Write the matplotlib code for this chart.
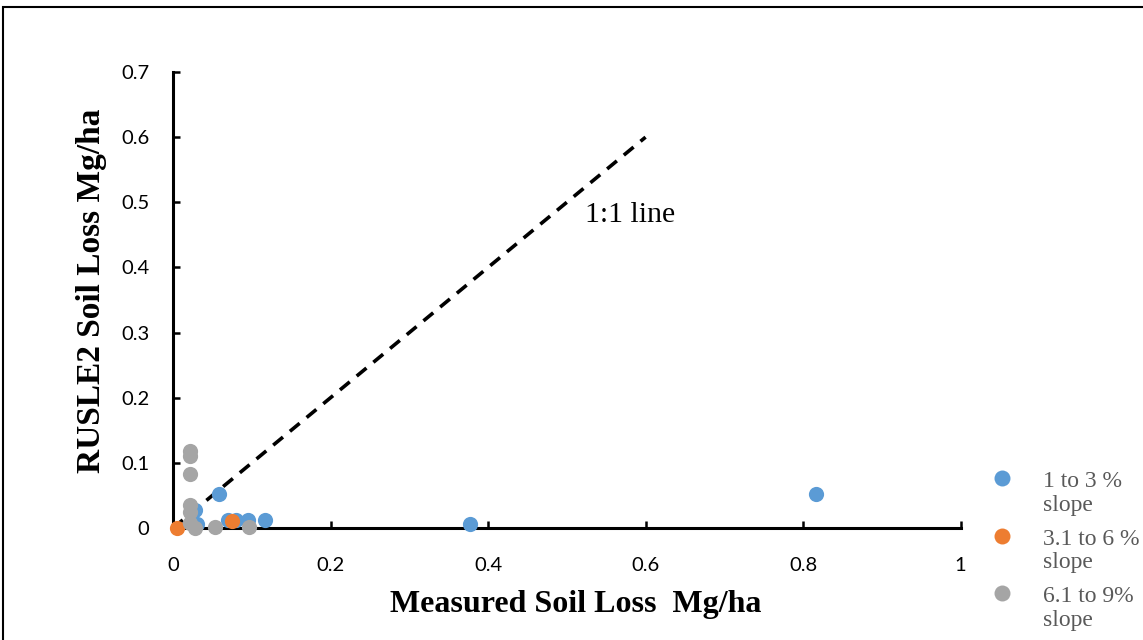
import matplotlib.pyplot as plt
from matplotlib.patches import Rectangle
from matplotlib.lines import Line2D

plt.rcParams['font.family'] = ['Liberation Serif', 'DejaVu Serif']

# measured vs RUSLE2 soil loss (Mg/ha), grouped by slope class
x_13 = [0.058, 0.817, 0.377, 0.028, 0.030, 0.070, 0.080, 0.095, 0.117]
y_13 = [0.052, 0.052, 0.006, 0.028, 0.006, 0.012, 0.012, 0.012, 0.013]

x_36 = [0.005, 0.075]
y_36 = [0.000, 0.011]

x_69 = [0.021, 0.021, 0.021, 0.021, 0.021, 0.021, 0.028, 0.053, 0.097]
y_69 = [0.118, 0.110, 0.083, 0.035, 0.025, 0.008, 0.000, 0.001, 0.001]

labels = ['1 to 3 %\nslope', '3.1 to 6 %\nslope', '6.1 to 9%\nslope']
colors = ['#5B9BD5', '#ED7D31', '#A5A5A5']

line_x = [0, 0.6]
line_y = [0, 0.6]

xticks = [0, 0.2, 0.4, 0.6, 0.8, 1]
xticklabels = ['0', '0.2', '0.4', '0.6', '0.8', '1']
yticks = [0, 0.1, 0.2, 0.3, 0.4, 0.5, 0.6, 0.7]
yticklabels = ['0', '0.1', '0.2', '0.3', '0.4', '0.5', '0.6', '0.7']

fig = plt.figure(figsize=(11.43, 6.4), dpi=100)
ax = fig.add_axes([0.1514, 0.175, 0.689, 0.7125])

ax.plot(line_x, line_y, ls=(0, (3.5, 2.5)), color='black', lw=2.6, zorder=1)
for xs, ys, c in zip([x_13, x_36, x_69], [y_13, y_36, y_69], colors):
    ax.scatter(xs, ys, s=120, color=c, zorder=3, linewidths=0, clip_on=False)

ax.text(0.523, 0.481, '1:1 line', fontsize=21.5, va='center', ha='left')

ax.set_xlim(0, 1)
ax.set_ylim(0, 0.7)
ax.set_xticks(xticks)
ax.set_xticklabels(xticklabels, family=['Lato', 'DejaVu Sans'])
ax.set_yticks(yticks)
ax.set_yticklabels(yticklabels, family=['Lato', 'DejaVu Sans'])
for s in ['top', 'right']:
    ax.spines[s].set_visible(False)
for s in ['left', 'bottom']:
    ax.spines[s].set_linewidth(2.2)
ax.tick_params(direction='in', length=5, width=1.8, labelsize=14.5)
ax.tick_params(axis='x', pad=21)
ax.tick_params(axis='y', pad=17)

ax.set_xlabel('Measured Soil Loss  Mg/ha', fontsize=23, fontweight='bold')
ax.xaxis.set_label_coords(0.511, -0.135)
ax.set_ylabel('RUSLE2 Soil Loss Mg/ha', fontsize=24, fontweight='bold')
ax.yaxis.set_label_coords(-0.084, 0.52)

# legend, marker beside the first line of each label
fig_w, fig_h = 1143, 640
for i, (lab, c) in enumerate(zip(labels, colors)):
    ym = 478 + i * 57.5
    fig.add_artist(Line2D([1002 / fig_w], [1 - ym / fig_h], marker='o', ms=11.5,
                          color=c, mec='none', transform=fig.transFigure))
    fig.text(1043 / fig_w, 1 - (ym + 15.5) / fig_h, lab, fontsize=17,
             color='#595959', va='center', ha='left', linespacing=1.15)

fig.patches.append(Rectangle((0.003, -0.05), 1.2, 1.039, transform=fig.transFigure,
                             fill=False, edgecolor='black', lw=1.5))

fig.savefig('out.png', dpi=100)
